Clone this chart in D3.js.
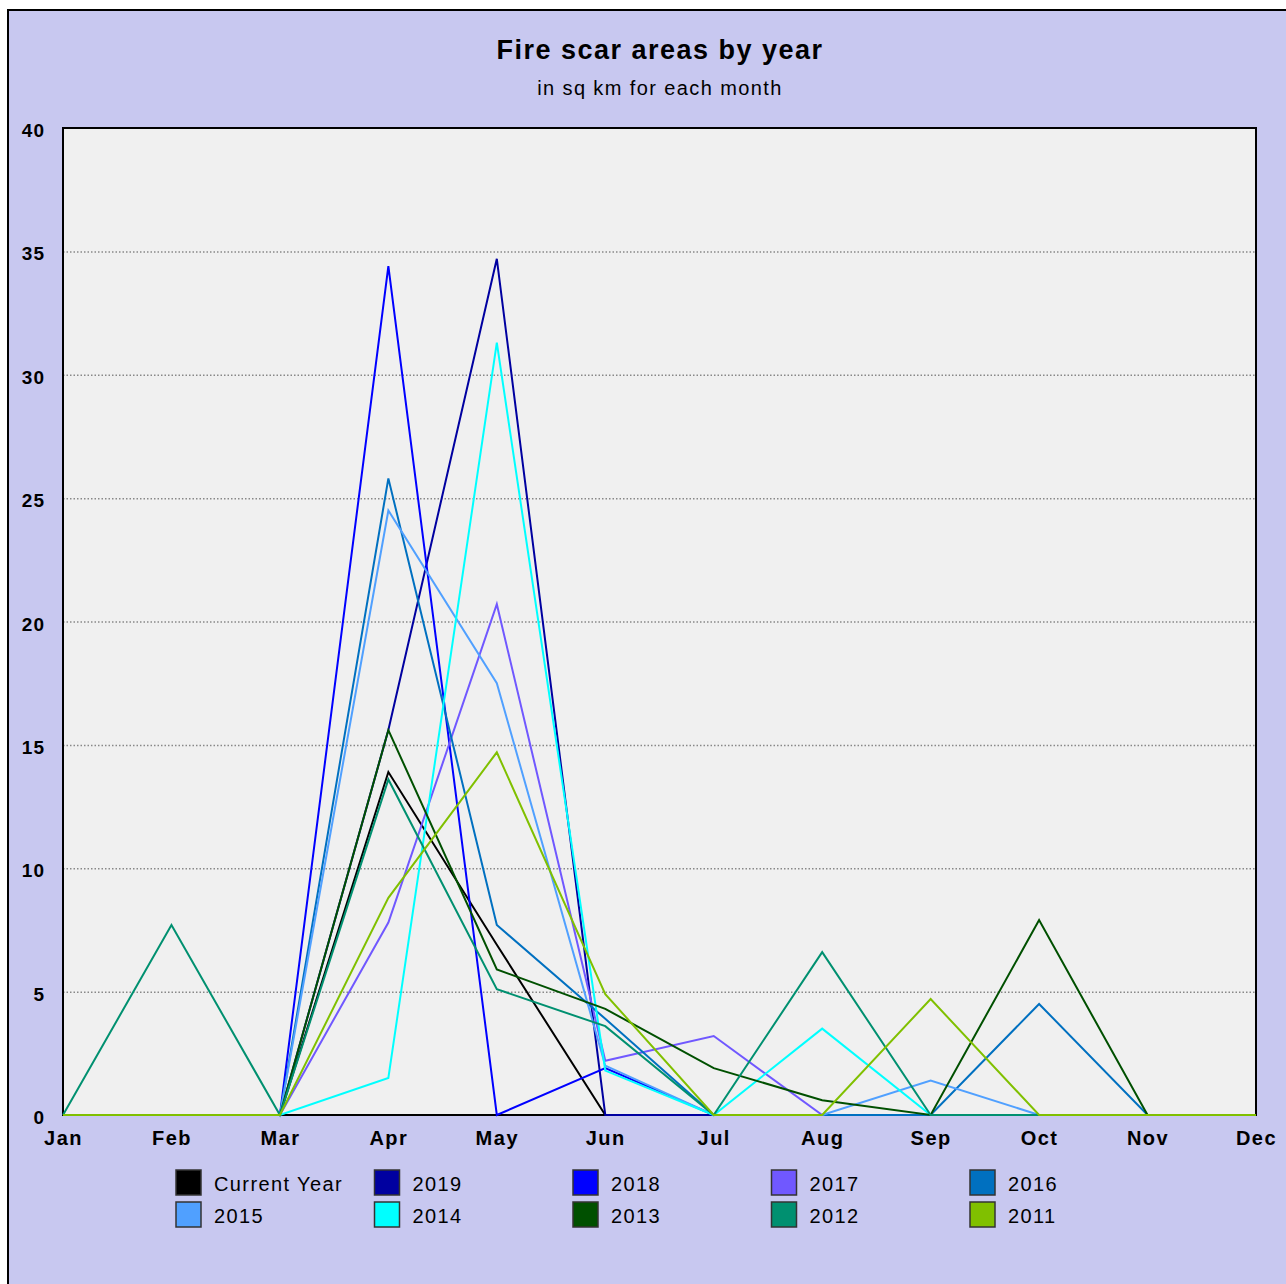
<!DOCTYPE html>
<html>
<head>
<meta charset="utf-8">
<script src="https://cdn.jsdelivr.net/npm/d3@7"></script>
<style>
body { margin: 0; background: #fff; }
text { font-family: "Liberation Sans", Arial, sans-serif; }
</style>
</head>
<body>
<div id="chart"></div>
<script>
chart_width = 1286;
chart_height = 1284;

months = ['Jan', 'Feb', 'Mar', 'Apr', 'May', 'Jun', 'Jul', 'Aug', 'Sep', 'Oct', 'Nov', 'Dec'];
y_ticks = [0, 5, 10, 15, 20, 25, 30, 35, 40];

series_names = ['Current Year', '2019', '2018', '2017', '2016', '2015', '2014', '2013', '2012', '2011'];
series_colors = ['#000000', '#0000a0', '#0000ff', '#7058ff', '#0070c0', '#50a0ff', '#00ffff', '#005000', '#009070', '#80c000'];

current_year = [0, 0, 0, 13.9, 6.9, 0, null, null, null, null, null, null];
y2019 = [0, 0, 0, 15.6, 34.7, 0, 0, 0, 0, 0, 0, 0];
y2018 = [0, 0, 0, 34.4, 0, 1.9, 0, 0, 0, 0, 0, 0];
y2017 = [0, 0, 0, 7.8, 20.7, 2.2, 3.2, 0, 0, 0, 0, 0];
y2016 = [0, 0, 0, 25.8, 7.7, 3.9, 0, 0, 0, 4.5, 0, 0];
y2015 = [0, 0, 0, 24.5, 17.5, 2.0, 0, 0, 1.4, 0, 0, 0];
y2014 = [0, 0, 0, 1.5, 31.3, 1.8, 0, 3.5, 0, 0, 0, 0];
y2013 = [0, 0, 0, 15.6, 5.9, 4.3, 1.9, 0.6, 0, 7.9, 0, 0];
y2012 = [0, 7.7, 0, 13.6, 5.1, 3.6, 0, 6.6, 0, 0, 0, 0];
y2011 = [0, 0, 0, 8.8, 14.7, 4.9, 0, 0, 4.7, 0, 0, 0];

series_values = [current_year, y2019, y2018, y2017, y2016, y2015, y2014, y2013, y2012, y2011];

plot = { left: 63, right: 1256, top: 128, bottom: 1115 };

x_scale = d3.scalePoint()
	.domain(months)
	.range([plot.left, plot.right]);

y_scale = d3.scaleLinear()
	.domain([0, 40])
	.range([plot.bottom, plot.top]);

svg = d3.select('#chart')
	.append('svg')
	.attr('width', chart_width)
	.attr('height', chart_height);

// outer panel
svg.append('rect')
	.attr('x', 8)
	.attr('y', 10)
	.attr('width', chart_width)
	.attr('height', chart_height)
	.attr('fill', '#c8c8f0')
	.attr('stroke', '#000')
	.attr('stroke-width', 2);

// titles
svg.append('text')
	.attr('x', 660)
	.attr('y', 59)
	.attr('text-anchor', 'middle')
	.attr('font-size', 27)
	.attr('font-weight', 'bold')
	.attr('letter-spacing', 1.5)
	.text('Fire scar areas by year');

svg.append('text')
	.attr('x', 660)
	.attr('y', 95)
	.attr('text-anchor', 'middle')
	.attr('font-size', 20)
	.attr('letter-spacing', 1.4)
	.text('in sq km for each month');

// plot background
svg.append('rect')
	.attr('x', plot.left)
	.attr('y', plot.top)
	.attr('width', plot.right - plot.left)
	.attr('height', plot.bottom - plot.top)
	.attr('fill', '#f0f0f0');

// gridlines
svg.selectAll('.grid')
	.data(y_ticks.filter((d) => d > 0 && d < 40))
	.enter()
	.append('line')
	.attr('x1', plot.left)
	.attr('x2', plot.right)
	.attr('y1', (d) => y_scale(d) + 0.5)
	.attr('y2', (d) => y_scale(d) + 0.5)
	.attr('stroke', '#888')
	.attr('stroke-width', 1.5)
	.attr('stroke-dasharray', '1.5,2');

// y axis labels
y_axis = d3.axisLeft(y_scale)
	.tickValues(y_ticks)
	.tickSize(0)
	.tickPadding(18);

svg.append('g')
	.attr('transform', 'translate(' + plot.left + ',0)')
	.call(y_axis)
	.call((g) => g.select('.domain').remove())
	.selectAll('text')
	.attr('font-size', 19)
	.attr('font-weight', 'bold')
	.attr('letter-spacing', 1)
	.attr('fill', '#000')
	.attr('dy', '0.45em')
	.style('font-family', '"Liberation Sans", Arial, sans-serif');

// x axis labels
x_axis = d3.axisBottom(x_scale)
	.tickSize(0)
	.tickPadding(16);

svg.append('g')
	.attr('transform', 'translate(0,' + plot.bottom + ')')
	.call(x_axis)
	.call((g) => g.select('.domain').remove())
	.selectAll('text')
	.attr('font-size', 20)
	.attr('font-weight', 'bold')
	.attr('letter-spacing', 1.5)
	.attr('fill', '#000')
	.style('font-family', '"Liberation Sans", Arial, sans-serif');

// plot frame
svg.append('rect')
	.attr('x', plot.left)
	.attr('y', plot.top)
	.attr('width', plot.right - plot.left)
	.attr('height', plot.bottom - plot.top)
	.attr('fill', 'none')
	.attr('stroke', '#000')
	.attr('stroke-width', 2);

// lines
line_gen = d3.line()
	.defined((d) => d !== null)
	.x((d, i) => x_scale(months[i]))
	.y((d) => y_scale(d));

svg.selectAll('.series')
	.data(series_values)
	.enter()
	.append('path')
	.attr('d', line_gen)
	.attr('fill', 'none')
	.attr('stroke', (d, i) => series_colors[i])
	.attr('stroke-width', 2)
	.attr('stroke-linejoin', 'miter');

// legend
legend = svg.selectAll('.legend')
	.data(series_names)
	.enter()
	.append('g')
	.attr('transform', (d, i) => 'translate(' + (176 + (i % 5) * 198.5) + ',' + (1170 + Math.floor(i / 5) * 32) + ')');

legend.append('rect')
	.attr('width', 25)
	.attr('height', 25)
	.attr('fill', (d, i) => series_colors[i])
	.attr('stroke', '#333')
	.attr('stroke-width', 1.5);

legend.append('text')
	.attr('x', 38)
	.attr('y', 21)
	.attr('font-size', 20)
	.attr('letter-spacing', 1.4)
	.text((d) => d);
</script>
</body>
</html>
